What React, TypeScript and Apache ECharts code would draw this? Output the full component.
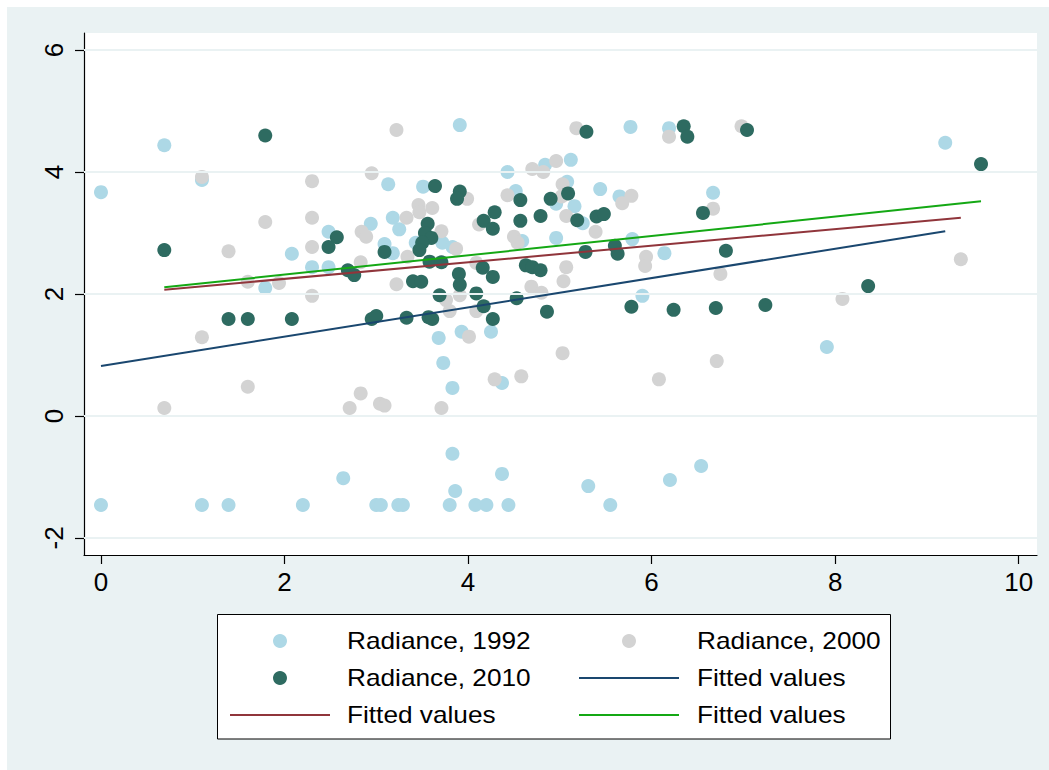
import React, { useEffect, useRef } from "react";
import * as echarts from "echarts";

// Radiance, 1992 (x, y)
const radiance1992: [number, number][] = [
  [0, 3.67], [0.69, 4.44], [1.1, 3.87], [0, -1.46], [1.1, -1.46], [1.39, -1.46], [2.2, -1.46],
  [2.64, -1.02], [3.0, -1.46], [3.05, -1.46], [3.24, -1.46], [3.29, -1.46], [3.8, -1.46],
  [3.83, -0.62], [3.86, -1.23], [4.08, -1.46], [4.2, -1.46], [4.37, -0.95], [4.44, -1.46],
  [5.31, -1.15], [5.55, -1.46], [6.2, -1.05], [6.54, -0.82], [7.91, 1.13], [3.68, 1.28],
  [3.73, 0.87], [3.83, 0.46], [3.93, 1.38], [4.25, 1.38], [4.37, 0.54], [5.9, 1.97],
  [1.79, 2.1], [2.08, 2.66], [2.3, 2.44], [2.48, 2.44], [2.48, 3.02], [3.91, 4.77],
  [4.43, 4.0], [3.13, 3.8], [3.51, 3.76], [4.52, 3.69], [4.84, 4.12], [5.12, 4.2],
  [5.08, 3.84], [5.44, 3.72], [5.65, 3.6], [5.77, 4.74], [6.19, 4.72], [2.94, 3.15],
  [3.18, 3.25], [3.25, 3.06], [3.09, 2.82], [3.18, 2.67], [3.43, 2.84], [3.72, 2.84],
  [3.83, 2.77], [4.59, 2.87], [4.96, 2.92], [4.96, 3.48], [5.16, 3.44], [5.25, 3.16],
  [5.79, 2.9], [6.14, 2.67], [9.2, 4.48], [6.67, 3.66],
];

// Radiance, 2000 (x, y)
const radiance2000: [number, number][] = [
  [1.1, 3.92], [2.3, 3.85], [1.79, 3.18], [2.3, 3.25], [2.3, 2.77], [1.39, 2.7], [1.6, 2.2],
  [1.94, 2.18], [2.3, 1.97], [1.1, 1.29], [1.6, 0.48], [0.69, 0.13], [2.71, 0.13],
  [2.83, 0.37], [3.04, 0.2], [3.09, 0.17], [3.71, 0.13], [4.01, 1.3], [4.29, 0.6],
  [4.58, 0.65], [5.03, 1.03], [6.08, 0.6], [3.22, 2.16], [3.76, 1.9], [3.91, 1.98],
  [3.8, 1.72], [4.09, 1.72], [4.69, 2.12], [4.8, 2.02], [5.04, 2.21], [6.71, 0.9],
  [6.75, 2.33], [8.08, 1.92], [9.37, 2.57], [6.67, 3.4], [6.98, 4.75], [3.22, 4.69],
  [2.95, 3.98], [5.18, 4.72], [6.19, 4.58], [4.7, 4.05], [4.82, 4.0], [4.96, 4.18],
  [5.03, 3.8], [4.43, 3.62], [3.99, 3.56], [3.46, 3.46], [3.47, 3.34], [3.61, 3.41],
  [3.33, 3.25], [2.84, 3.02], [2.89, 2.94], [3.71, 3.03], [4.12, 3.14], [4.5, 2.94],
  [4.54, 2.84], [5.07, 3.28], [5.39, 3.02], [5.68, 3.49], [5.78, 3.61], [5.02, 3.6],
  [3.34, 2.61], [2.83, 2.52], [3.87, 2.74], [4.09, 2.51], [5.07, 2.44], [5.94, 2.61],
  [5.93, 2.46],
];

// Radiance, 2010 (x, y)
const radiance2010: [number, number][] = [
  [1.79, 4.6], [2.57, 2.93], [2.48, 2.77], [0.69, 2.72], [1.39, 1.59], [1.6, 1.59],
  [2.08, 1.59], [3.64, 3.77], [3.91, 3.68], [3.88, 3.56], [4.57, 3.54], [4.9, 3.56],
  [5.09, 3.65], [4.29, 3.34], [4.17, 3.2], [4.27, 3.07], [4.57, 3.2], [4.79, 3.28],
  [5.19, 3.21], [5.4, 3.27], [5.48, 3.31], [3.56, 3.15], [3.53, 3.0], [3.6, 2.92],
  [3.5, 2.84], [3.47, 2.72], [3.09, 2.69], [2.69, 2.39], [2.76, 2.31], [3.58, 2.53],
  [3.71, 2.52], [4.16, 2.43], [3.9, 2.33], [4.27, 2.28], [4.63, 2.47], [4.7, 2.44],
  [4.79, 2.39], [5.28, 2.69], [5.6, 2.79], [5.63, 2.66], [3.4, 2.21], [3.49, 2.2],
  [3.91, 2.15], [4.09, 2.01], [3.69, 1.98], [4.53, 1.93], [4.17, 1.8], [4.27, 1.59],
  [4.86, 1.71], [2.95, 1.59], [3.0, 1.64], [3.33, 1.61], [3.57, 1.62], [3.61, 1.59],
  [5.78, 1.79], [6.24, 1.74], [6.35, 4.75], [6.39, 4.58], [7.04, 4.69], [9.59, 4.13],
  [6.56, 3.33], [6.81, 2.71], [6.7, 1.77], [7.24, 1.82], [8.36, 2.13], [5.29, 4.66],
];

// Fitted values (end points)
const fit1992: [number, number][] = [[0, 0.82], [9.2, 3.03]];
const fit2000: [number, number][] = [[0.69, 2.07], [9.37, 3.25]];
const fit2010: [number, number][] = [[0.69, 2.11], [9.59, 3.52]];

const xTicks = [0, 2, 4, 6, 8, 10];
const yTicks = [-2, 0, 2, 4, 6];

const legendLabels = [
  "Radiance, 1992",
  "Radiance, 2000",
  "Radiance, 2010",
  "Fitted values",
  "Fitted values",
  "Fitted values",
];

const C92 = "#add8e6";
const C00 = "#d3d3d3";
const C10 = "#2e6b61";
const CFIT92 = "#1a476f";
const CFIT00 = "#90353b";
const CFIT10 = "#14a814";
const BG = "#eaf2f3";
const FONT = '"Liberation Sans", Arial, Helvetica, sans-serif';

export default function App() {
  const ref = useRef<HTMLDivElement>(null);
  useEffect(() => {
    const chart = echarts.init(ref.current!, null, { renderer: "svg" });

    const legendItems = [
      { kind: "dot", color: C92, col: 0, row: 0 },
      { kind: "dot", color: C00, col: 1, row: 0 },
      { kind: "dot", color: C10, col: 0, row: 1 },
      { kind: "line", color: CFIT92, col: 1, row: 1 },
      { kind: "line", color: CFIT00, col: 0, row: 2 },
      { kind: "line", color: CFIT10, col: 1, row: 2 },
    ];
    const colX = [230, 579];
    const textX = [347, 697];
    const rowY = [641, 678, 715];
    const legendGraphics: any[] = [
      {
        type: "rect",
        z: 100,
        shape: { x: 217.5, y: 614.5, width: 673, height: 124.5 },
        style: { fill: "#fff", stroke: "#000", lineWidth: 1 },
      },
    ];
    legendItems.forEach((it, i) => {
      const x0 = colX[it.col];
      const y = rowY[it.row];
      if (it.kind === "dot") {
        legendGraphics.push({
          type: "circle",
          z: 101,
          shape: { cx: x0 + 50, cy: y, r: 7 },
          style: { fill: it.color },
        });
      } else {
        legendGraphics.push({
          type: "line",
          z: 101,
          shape: { x1: x0, y1: y, x2: x0 + 100, y2: y },
          style: { stroke: it.color, lineWidth: 2 },
        });
      }
      legendGraphics.push({
        type: "text",
        z: 101,
        x: textX[it.col],
        y: y,
        scaleX: 1.14,
        style: {
          text: legendLabels[i],
          fontSize: 23,
          fontFamily: FONT,
          fill: "#000",
          align: "left",
          verticalAlign: "middle",
        },
      });
    });

    const scatter = (name: string, data: [number, number][], color: string, z: number) => ({
      name,
      type: "scatter",
      data,
      symbol: "circle",
      symbolSize: 14,
      z,
      silent: true,
      itemStyle: { color, opacity: 1 },
      emphasis: { disabled: true },
    });
    const fitLine = (name: string, data: [number, number][], color: string) => ({
      name,
      type: "line",
      data,
      symbol: "none",
      showSymbol: false,
      z: 6,
      silent: true,
      lineStyle: { color, width: 2 },
      emphasis: { disabled: true },
    });

    chart.setOption({
      animation: false,
      backgroundColor: "transparent",
      textStyle: { fontFamily: FONT },
      grid: {
        left: 84,
        right: 12,
        top: 33,
        bottom: 215,
        show: true,
        backgroundColor: "#fff",
        borderWidth: 0,
      },
      xAxis: {
        type: "value",
        min: -0.185,
        max: 10.2,
        axisLine: { show: true, onZero: false, lineStyle: { color: "#000", width: 1.2 } },
        axisTick: {
          show: true,
          length: 9,
          customValues: xTicks,
          lineStyle: { color: "#000", width: 1.2 },
        },
        axisLabel: {
          customValues: xTicks,
          fontSize: 26,
          color: "#000",
          margin: 14,
          fontFamily: FONT,
        },
        splitLine: { show: false },
      },
      yAxis: {
        type: "value",
        min: -2.28,
        max: 6.28,
        axisLine: { show: true, onZero: false, lineStyle: { color: "#000", width: 1.2 } },
        axisTick: {
          show: true,
          length: 9,
          customValues: yTicks,
          lineStyle: { color: "#000", width: 1.2 },
        },
        axisLabel: {
          customValues: yTicks,
          fontSize: 26,
          color: "#000",
          margin: 17,
          rotate: 90,
          fontFamily: FONT,
        },
        splitLine: { show: false },
      },
      graphic: [
        {
          type: "rect",
          z: -100,
          silent: true,
          shape: { x: 7, y: 7, width: 1042, height: 763 },
          style: { fill: BG },
        },
        ...legendGraphics,
      ],
      series: [
        {
          name: "gridlines",
          type: "line",
          data: [],
          z: 1,
          silent: true,
          markLine: {
            silent: true,
            symbol: ["none", "none"],
            label: { show: false },
            lineStyle: { color: BG, width: 2, type: "solid" },
            emphasis: { disabled: true },
            data: yTicks.map((v) => ({ yAxis: v })),
          },
        },
        scatter("Radiance, 1992", radiance1992, C92, 2),
        scatter("Radiance, 2000", radiance2000, C00, 3),
        scatter("Radiance, 2010", radiance2010, C10, 4),
        fitLine("fit1992", fit1992, CFIT92),
        fitLine("fit2000", fit2000, CFIT00),
        fitLine("fit2010", fit2010, CFIT10),
      ],
    });
    return () => chart.dispose();
  }, []);
  return (
    <div
      ref={ref}
      style={{ position: "absolute", left: 0, top: 0, width: 1049, height: 770, background: "#fff" }}
    />
  );
}
